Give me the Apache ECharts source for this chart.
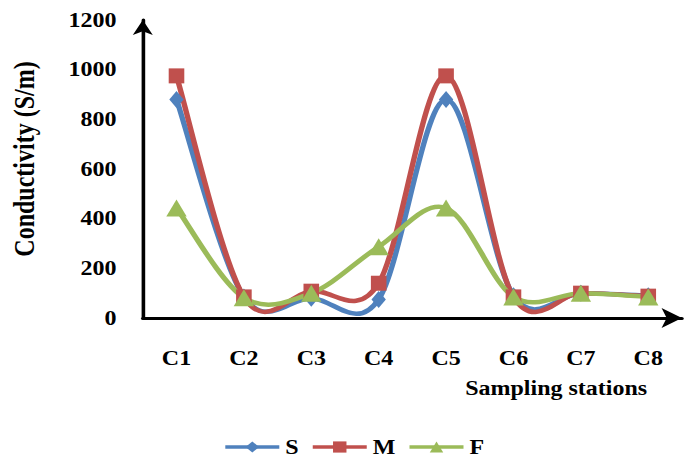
<!DOCTYPE html>
<html>
<head>
<meta charset="utf-8">
<script src="https://cdn.jsdelivr.net/npm/echarts@6/dist/echarts.min.js"></script>
<style>
  html, body { margin: 0; padding: 0; background: #ffffff; overflow: hidden; }
  /* the chart is laid out narrow and widened horizontally, giving the wide serif lettering */
  #chart { width: 575px; height: 461px; transform: scaleX(1.2); transform-origin: 0 0; }
</style>
</head>
<body>
<div id="chart"></div>
<script>
// Sampling stations along the x axis
const stations = ['C1', 'C2', 'C3', 'C4', 'C5', 'C6', 'C7', 'C8'];

// Conductivity (S/m) per station for each series
const seriesS = [880, 85, 80, 75, 880, 90, 100, 90];
const seriesM = [975, 85, 108, 140, 975, 85, 100, 88];
const seriesF = [443, 82, 100, 287, 443, 85, 100, 85];

// Y axis range and step
const yMin = 0;
const yMax = 1200;
const yStep = 200;

const FONT = '"Liberation Serif", "Times New Roman", serif';
const COLORS = { S: '#4F81BD', M: '#C0504D', F: '#9BBB59' };
const LINE_W = 4.5;

const chart = echarts.init(document.getElementById('chart'), null, { renderer: 'svg' });

// Smoothed connecting curve: one cubic Bezier per segment, with
// Catmull-Rom style control points taken from the neighbouring stations.
function curveSeries(name, values, color, z) {
  const n = values.length;
  return {
    name: name + ' curve',
    type: 'custom',
    data: values.map((v, i) => [stations[i], v]),
    encode: { x: 0, y: 1 },
    z: z,
    silent: true,
    renderItem: function (params, api) {
      const i = params.dataIndex;
      if (i >= n - 1) return null;
      const pt = k => api.coord([k, values[k]]);
      const p0 = pt(Math.max(i - 1, 0));
      const p1 = pt(i);
      const p2 = pt(i + 1);
      const p3 = pt(Math.min(i + 2, n - 1));
      return {
        type: 'bezierCurve',
        shape: {
          x1: p1[0], y1: p1[1],
          x2: p2[0], y2: p2[1],
          cpx1: p1[0] + (p2[0] - p0[0]) / 6,
          cpy1: p1[1] + (p2[1] - p0[1]) / 6,
          cpx2: p2[0] - (p3[0] - p1[0]) / 6,
          cpy2: p2[1] - (p3[1] - p1[1]) / 6
        },
        style: { stroke: color, lineWidth: LINE_W, fill: null, lineCap: 'round' }
      };
    }
  };
}

// Station markers (the curve is drawn by the custom series above)
function markerSeries(name, values, symbol, size, color, z) {
  return {
    name: name,
    type: 'line',
    data: values,
    symbol: symbol,
    symbolSize: size,
    showAllSymbol: true,
    lineStyle: { color: color, width: LINE_W, opacity: 0 },
    itemStyle: { color: color },
    emphasis: { disabled: true },
    z: z
  };
}

const axisText = { fontFamily: FONT, fontSize: 20, fontWeight: 'bold', color: '#000' };

chart.setOption({
  animation: false,
  backgroundColor: '#ffffff',
  grid: { left: 117.5, right: 6.7, top: 20, bottom: 143, containLabel: false },
  xAxis: {
    type: 'category',
    data: stations,
    boundaryGap: true,
    name: 'Sampling stations',
    nameLocation: 'end',
    nameGap: 0,
    nameTextStyle: Object.assign({}, axisText, {
      align: 'right', verticalAlign: 'top', padding: [60, 29, 0, 0]
    }),
    axisLine: {
      show: true,
      lineStyle: { color: '#000', width: 3 },
      symbol: ['none', 'arrow'],
      symbolSize: [15, 17]
    },
    axisTick: { show: false },
    axisLabel: Object.assign({}, axisText, { margin: 30 }),
    splitLine: { show: false }
  },
  yAxis: {
    type: 'value',
    min: yMin,
    max: yMax,
    interval: yStep,
    name: 'Conductivity (S/m)',
    nameLocation: 'middle',
    nameRotate: 90,
    nameGap: 87,
    nameTextStyle: Object.assign({}, axisText, { fontSize: 24, padding: [0, 0, 0, 20] }),
    axisLine: {
      show: true,
      lineStyle: { color: '#000', width: 3 },
      symbol: ['none', 'arrow'],
      symbolSize: [12.5, 15]
    },
    axisTick: { show: false },
    axisLabel: Object.assign({}, axisText, {
      margin: 22,
      formatter: v => String(v)
    }),
    splitLine: { show: false }
  },
  legend: {
    top: 432,
    left: 181,
    itemWidth: 45,
    itemHeight: 14,
    itemGap: 10,
    padding: [5, 5, 5, 5],
    textStyle: Object.assign({}, axisText, { lineHeight: 20 }),
    data: [
      { name: 'S', lineStyle: { color: COLORS.S, width: 3.5, opacity: 1 } },
      { name: 'M', lineStyle: { color: COLORS.M, width: 3.5, opacity: 1 } },
      { name: 'F', lineStyle: { color: COLORS.F, width: 3.5, opacity: 1 } }
    ]
  },
  series: [
    curveSeries('S', seriesS, COLORS.S, 2),
    curveSeries('M', seriesM, COLORS.M, 3),
    curveSeries('F', seriesF, COLORS.F, 4),
    markerSeries('S', seriesS, 'diamond', [12, 17], COLORS.S, 5),
    markerSeries('M', seriesM, 'rect', [13, 15], COLORS.M, 6),
    markerSeries('F', seriesF, 'triangle', [17, 17], COLORS.F, 7)
  ]
});
</script>
</body>
</html>
